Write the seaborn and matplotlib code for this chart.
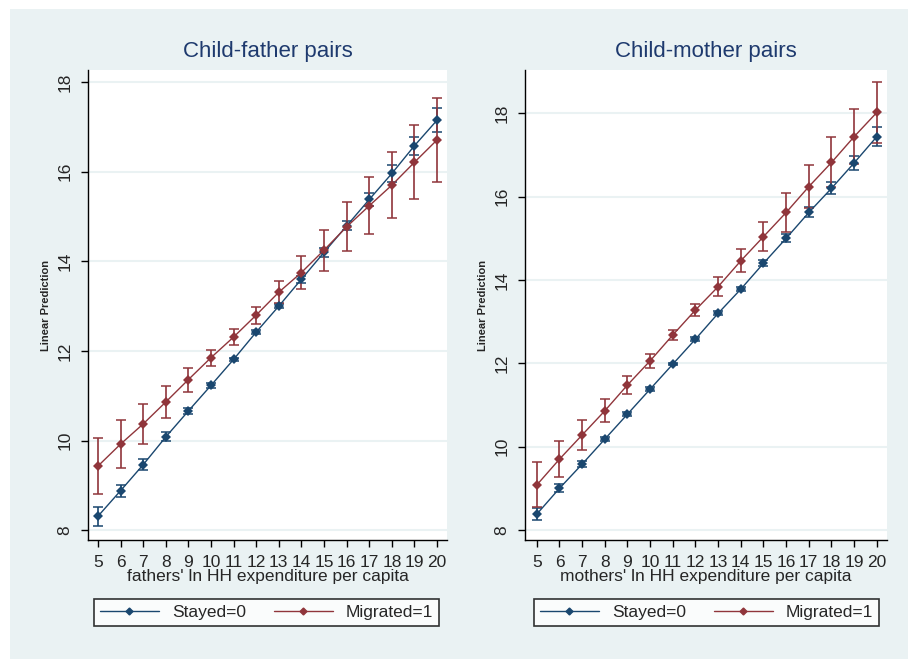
import numpy as np
import pandas as pd
import matplotlib
matplotlib.use("Agg")
import matplotlib.pyplot as plt
from matplotlib.patches import Rectangle
from matplotlib.lines import Line2D
import seaborn as sns

# -----------------------------
# data (margins with 95% CI half-widths)
# -----------------------------
expenditure = list(range(5, 21))

father_stayed = [8.31, 8.88, 9.46, 10.08, 10.66, 11.23, 11.81, 12.42,
                 13.00, 13.60, 14.20, 14.79, 15.38, 15.96, 16.58, 17.15]
father_stayed_ci = [0.21, 0.13, 0.12, 0.10, 0.07, 0.05, 0.04, 0.05,
                    0.05, 0.08, 0.10, 0.10, 0.15, 0.18, 0.20, 0.27]
father_migrated = [9.43, 9.92, 10.37, 10.86, 11.36, 11.85, 12.31, 12.80,
                   13.31, 13.75, 14.25, 14.77, 15.24, 15.70, 16.21, 16.71]
father_migrated_ci = [0.62, 0.53, 0.44, 0.35, 0.27, 0.18, 0.18, 0.19,
                      0.24, 0.36, 0.46, 0.55, 0.64, 0.73, 0.83, 0.94]

mother_stayed = [8.38, 9.00, 9.58, 10.18, 10.78, 11.38, 11.98, 12.58,
                 13.20, 13.78, 14.40, 15.00, 15.62, 16.20, 16.81, 17.44]
mother_stayed_ci = [0.15, 0.10, 0.07, 0.05, 0.04, 0.04, 0.03, 0.04,
                    0.05, 0.05, 0.07, 0.10, 0.12, 0.14, 0.17, 0.23]
mother_migrated = [9.08, 9.70, 10.28, 10.86, 11.48, 12.06, 12.68, 13.28,
                   13.84, 14.46, 15.04, 15.62, 16.24, 16.82, 17.44, 18.02]
mother_migrated_ci = [0.54, 0.44, 0.37, 0.28, 0.22, 0.17, 0.13, 0.15,
                      0.23, 0.28, 0.35, 0.47, 0.52, 0.60, 0.66, 0.74]

groups = ["Stayed=0", "Migrated=1"]
titles = ["Child-father pairs", "Child-mother pairs"]
xlabels = ["fathers' ln HH expenditure per capita",
           "mothers' ln HH expenditure per capita"]

NAVY = "#1a476f"
MAROON = "#90353b"
BG = "#eaf2f3"
GRID = "#eaf2f3"
palette = {"Stayed=0": NAVY, "Migrated=1": MAROON}


def make_frame(stayed, stayed_ci, migrated, migrated_ci):
    parts = []
    for g, vals, ci in [("Stayed=0", stayed, stayed_ci), ("Migrated=1", migrated, migrated_ci)]:
        parts.append(pd.DataFrame({"x": expenditure, "y": vals, "ci": ci, "group": g}))
    return pd.concat(parts, ignore_index=True)


frames = [
    make_frame(father_stayed, father_stayed_ci, father_migrated, father_migrated_ci),
    make_frame(mother_stayed, mother_stayed_ci, mother_migrated, mother_migrated_ci),
]

sns.set_style("white")
plt.rcParams["font.family"] = ["Liberation Sans", "DejaVu Sans"]

W, H = 908, 659
fig = plt.figure(figsize=(W / 100, H / 100), dpi=100, facecolor="white")
fig.patches.append(Rectangle((10 / W, 0), 898 / W, 650 / H,
                             transform=fig.transFigure, facecolor=BG,
                             edgecolor="none", zorder=-10))

# axes boxes in pixels: left, top, right, bottom
boxes = [(88, 70, 447, 540), (525, 70, 887, 540)]
xlims = [(4.56, 20.44), (4.48, 20.45)]
ylims = [(7.78, 18.27), (7.76, 19.04)]
yticks = [[8, 10, 12, 14, 16, 18], [8, 10, 12, 14, 16, 18]]
legend_boxes = [(93, 597, 440, 628), (532, 597, 881, 628)]

for i, df in enumerate(frames):
    l, t, r, b = boxes[i]
    ax = fig.add_axes([l / W, 1 - b / H, (r - l) / W, (b - t) / H])
    ax.set_facecolor("white")

    for g in groups:
        sub = df[df["group"] == g]
        ax.errorbar(sub["x"], sub["y"], yerr=sub["ci"], fmt="none",
                    ecolor=palette[g], elinewidth=1.2, capsize=3.8,
                    capthick=1.1, zorder=3)
    sns.lineplot(data=df, x="x", y="y", hue="group", palette=palette,
                 marker="D", markersize=5, markeredgewidth=0,
                 linewidth=1.0, legend=False, ax=ax, zorder=4)

    ax.set_xlim(*xlims[i])
    ax.set_ylim(*ylims[i])
    ax.set_xticks(expenditure)
    ax.set_xticklabels([str(v) for v in expenditure], fontsize=12.5)
    ax.set_yticks(yticks[i])
    ax.set_yticklabels([str(v) for v in yticks[i]], fontsize=12.5,
                       rotation=90, va="center")
    ax.grid(axis="y", color=GRID, linewidth=1.5)
    ax.grid(axis="x", visible=False)
    for s in ["top", "right"]:
        ax.spines[s].set_visible(False)
    for s in ["left", "bottom"]:
        ax.spines[s].set_color("black")
        ax.spines[s].set_linewidth(1.0)
    ax.tick_params(axis="both", direction="out", length=5, width=1,
                   color="black", bottom=True, left=True, pad=6)
    ax.set_xlabel(xlabels[i], fontsize=12.5, labelpad=-1)
    ax.set_ylabel("Linear Prediction", fontsize=8, fontweight="bold",
                  labelpad=5)
    ax.set_title(titles[i], fontsize=16, color="#1e3a6e", pad=9)

    # legend box below each panel
    ll, lt, lr, lb = legend_boxes[i]
    handles = [Line2D([0], [0], color=palette[g], marker="D", markersize=3.5,
                      linewidth=1.0) for g in groups]
    leg = fig.legend(handles, groups, loc="center",
                     bbox_to_anchor=((ll + lr) / 2 / W, 1 - (lt + lb) / 2 / H),
                     ncol=2, frameon=True, fancybox=False, fontsize=12.5,
                     handlelength=3.4, columnspacing=1.6, borderpad=0.35,
                     edgecolor="black", handletextpad=0.75)
    leg.get_frame().set_linewidth(1.2)

fig.savefig("out.png", dpi=100, facecolor="white")
